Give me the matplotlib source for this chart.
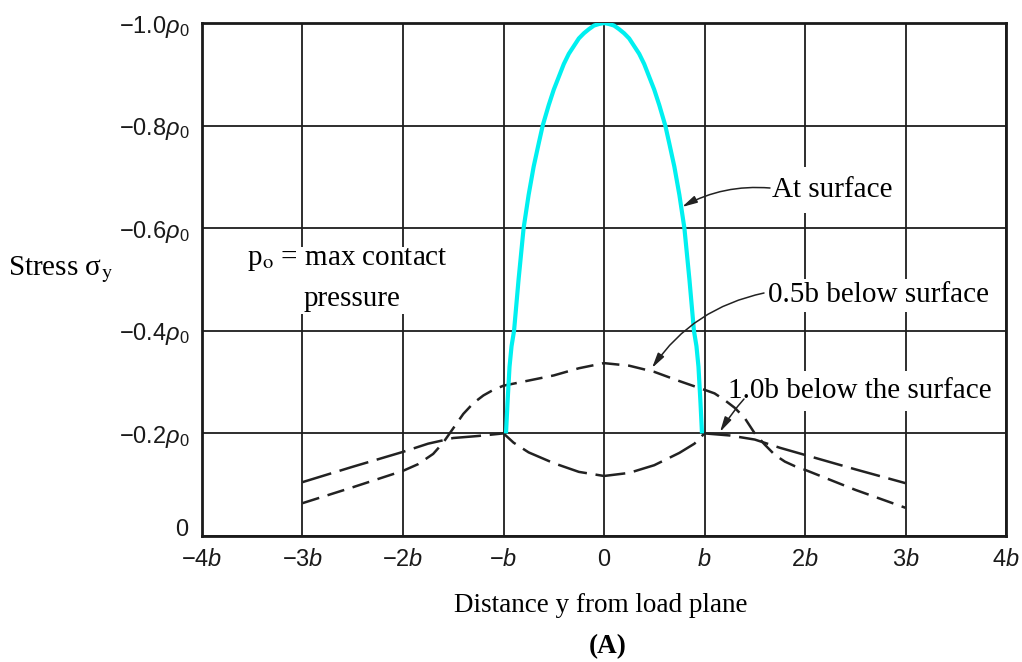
import matplotlib
matplotlib.use('Agg')
import matplotlib.pyplot as plt
from matplotlib.patches import Rectangle

plt.rcParams['mathtext.fontset'] = 'custom'
plt.rcParams['mathtext.rm'] = 'Liberation Sans'
plt.rcParams['mathtext.it'] = 'Liberation Sans:italic'
plt.rcParams['mathtext.bf'] = 'Liberation Sans:bold'

# ---------------- data (x in units of b, stress in units of p0) ----------------
x_ticks = [-4, -3, -2, -1, 0, 1, 2, 3, 4]
x_ticklabels = [r"$-4b$", r"$-3b$", r"$-2b$", r"$-b$", r"$0$", r"$b$", r"$2b$", r"$3b$", r"$4b$"]
y_ticks = [0, -0.2, -0.4, -0.6, -0.8, -1.0]
y_ticklabels = [r"$0$", r"$-0.2\rho_0$", r"$-0.4\rho_0$", r"$-0.6\rho_0$",
                r"$-0.8\rho_0$", r"$-1.0\rho_0$"]

x_surface = [-0.975, -0.96, -0.94, -0.92, -0.895, -0.85, -0.8, -0.75, -0.7, -0.65, -0.61, -0.55,
             -0.5, -0.45, -0.4, -0.35, -0.3, -0.25, -0.2, -0.15, -0.1, -0.05, 0.0,
             0.05, 0.1, 0.15, 0.2, 0.25, 0.3, 0.35, 0.4, 0.45, 0.5, 0.55, 0.61, 0.65, 0.7,
             0.75, 0.8, 0.85, 0.895, 0.92, 0.94, 0.96, 0.975]
s_surface = [-0.20, -0.26, -0.33, -0.37, -0.40, -0.50, -0.60, -0.665, -0.72, -0.765, -0.80, -0.84,
             -0.87, -0.895, -0.92, -0.94, -0.955, -0.97, -0.98, -0.988, -0.995, -0.998, -1.0,
             -0.998, -0.995, -0.988, -0.98, -0.97, -0.955, -0.94, -0.92, -0.895, -0.87, -0.84,
             -0.80, -0.765, -0.72, -0.665, -0.60, -0.50, -0.40, -0.37, -0.33, -0.26, -0.20]

x_half = [-3, -2.5, -2, -1.85, -1.7, -1.6, -1.5, -1.4, -1.3, -1.2, -1.1, -1, -0.75, -0.5, -0.25, 0,
          0.25, 0.5, 0.75, 1, 1.1, 1.2, 1.3, 1.4, 1.5, 1.6, 1.7, 1.8, 1.9, 2, 2.5, 3]
s_half = [-0.064, -0.095, -0.127, -0.14, -0.16, -0.182, -0.21, -0.238, -0.259, -0.274, -0.285,
          -0.293, -0.303, -0.313, -0.327, -0.337, -0.332, -0.32, -0.302, -0.285, -0.278, -0.265,
          -0.25, -0.23, -0.20, -0.178, -0.158, -0.145, -0.136, -0.129, -0.09, -0.055]

x_one = [-3, -2.5, -2, -1.75, -1.5, -1.25, -1, -0.9, -0.75, -0.5, -0.25, 0, 0.25, 0.5, 0.75, 0.9,
         1, 1.25, 1.5, 1.75, 2, 2.5, 3]
s_one = [-0.105, -0.135, -0.164, -0.18, -0.191, -0.195, -0.2, -0.182, -0.163, -0.142, -0.125,
         -0.117, -0.123, -0.138, -0.162, -0.18, -0.2, -0.196, -0.188, -0.172, -0.158, -0.13, -0.103]

# ---------------- figure ----------------
W, H = 1022, 662
fig = plt.figure(figsize=(W / 100, H / 100), dpi=100)
L, R, T, B = 202, 1006, 23, 536
ax = fig.add_axes([L / W, 1 - B / H, (R - L) / W, (B - T) / H])

ax.set_xlim(-4, 4)
ax.set_ylim(0, -1.0)
ax.set_xticks(x_ticks)
ax.set_xticklabels(x_ticklabels)
ax.set_yticks(y_ticks)
ax.set_yticklabels(y_ticklabels)
ax.tick_params(length=0, labelsize=17, colors='#1a1a1a')
ax.tick_params(axis='y', pad=9)
ax.tick_params(axis='x', pad=8)
ax.get_yticklabels()[0].set_va('baseline')
ax.grid(True, color='#1e1e1e', lw=1.3)
ax.set_axisbelow(True)
for sp in ax.spines.values():
    sp.set_linewidth(2.0)
    sp.set_color('#1a1a1a')

ax.plot(x_surface, s_surface, color='#00f0f0', lw=3.0, zorder=5, solid_capstyle='butt',
        solid_joinstyle='round')
ax.plot(x_half, s_half, color='#222222', lw=1.8, dashes=(7, 3.5), zorder=4)
ax.plot(x_one, s_one, color='#222222', lw=1.8, dashes=(12, 3.5), zorder=4)

serif = 'Liberation Serif'
fs = 21

def px2data(px, py):
    return ((px - (L + R) / 2) / ((R - L) / 8), -(B - py) / (B - T))

def box(pad):
    return dict(boxstyle='square,pad=%g' % pad, fc='white', ec='none')

# annotation texts (inside axes, white background interrupting grid)
ax.text(*px2data(772, 197), "At surface", family=serif, fontsize=fs, ha='left', va='baseline',
        bbox=box(0.35), zorder=3)
ax.text(*px2data(768, 302), "0.5b below surface", family=serif, fontsize=fs, ha='left',
        va='baseline', bbox=box(0.12), zorder=3)
ax.text(*px2data(728, 398), "1.0b below the surface", family=serif, fontsize=fs, ha='left',
        va='baseline', bbox=box(0.25), zorder=3)

x0, y0 = px2data(236, 314)
x1, y1 = px2data(458, 247)
ax.add_patch(Rectangle((x0, y0), x1 - x0, y1 - y0, fc='white', ec='none', zorder=2))
ax.text(*px2data(347, 265), r"p$_\mathrm{o}$ = max contact", family=serif, fontsize=fs,
        ha='center', va='baseline', zorder=3, math_fontfamily='stix')
ax.text(*px2data(352, 306), "pressure", family=serif, fontsize=fs, ha='center',
        va='baseline', zorder=3)

arrow = dict(arrowstyle='-|>,head_length=0.9,head_width=0.22', color='#222222', lw=1.1,
             shrinkA=0, shrinkB=0, mutation_scale=10)
ax.annotate("", xy=px2data(682, 207), xytext=px2data(770, 188),
            arrowprops=dict(arrow, connectionstyle='arc3,rad=0.15'), zorder=6)
ax.annotate("", xy=px2data(652, 368), xytext=px2data(764, 293),
            arrowprops=dict(arrow, connectionstyle='arc3,rad=0.2'), zorder=6)
ax.annotate("", xy=px2data(720, 432), xytext=px2data(744, 399),
            arrowprops=dict(arrow, connectionstyle='arc3,rad=0.05'), zorder=6)

# outside texts
fig.text(8 / W, 1 - 275 / H, "Stress σ$_\\mathrm{y}$", family=serif, fontsize=fs, ha='left',
         va='baseline', math_fontfamily='stix')
fig.text(601 / W, 1 - 612 / H, "Distance y from load plane", family=serif, fontsize=19.5,
         ha='center', va='baseline')
fig.text(608 / W, 1 - 653 / H, "(A)", family=serif, fontsize=19.5, fontweight='bold',
         ha='center', va='baseline')

fig.savefig('out.png', dpi=100, facecolor='white')
